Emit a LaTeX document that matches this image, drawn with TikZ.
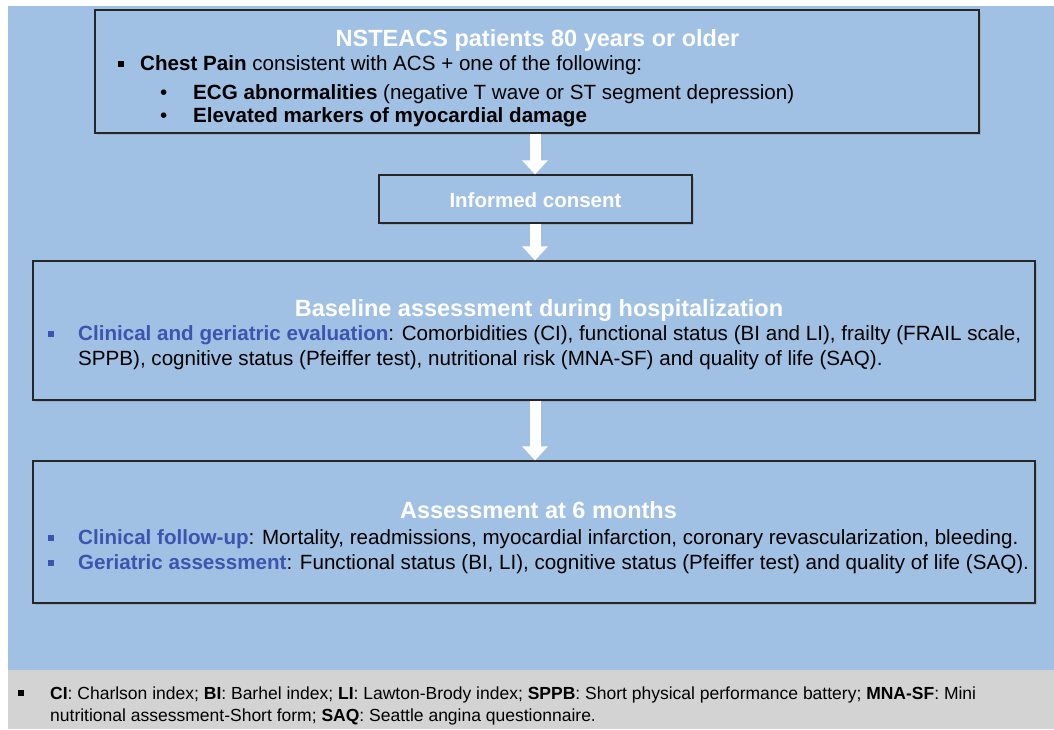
\documentclass[tikz,border=0pt]{standalone}
\usepackage{fontspec}
\setmainfont{Liberation Sans}
\usetikzlibrary{arrows.meta,shadows}

\definecolor{panelblue}{RGB}{160,193,228}
\definecolor{notegray}{RGB}{211,211,211}
\definecolor{keyblue}{RGB}{62,84,175}

\newcommand{\sqbullet}[1]{\textcolor{#1}{\rule[3pt]{6pt}{6pt}}}

\begin{document}
\begin{tikzpicture}[x=1pt, y=-1pt,
  stagebox/.style={draw=black!85, line width=1.3pt, fill=panelblue, inner sep=0pt,
    drop shadow={opacity=0.3, shadow xshift=1.5pt, shadow yshift=-1.5pt}},
  stagetitle/.style={anchor=base, inner sep=0pt, text=white, font=\fontsize{23.5}{28}\selectfont\bfseries},
  bodyline/.style={anchor=base west, inner sep=0pt, font=\fontsize{20.6}{24}\selectfont},
  noteline/.style={anchor=base west, inner sep=0pt, font=\fontsize{17.5}{21}\selectfont},
  flow/.style={white, line width=11pt, -{Triangle[width=25pt,length=14pt]}}
]
\useasboundingbox (0,0) rectangle (1054,729);
% background panels
\fill[panelblue] (8,6) rectangle (1054,670);
\fill[notegray] (8,670) rectangle (1054,729);

% boxes of the flow
\node[stagebox, minimum width=884pt, minimum height=123pt] (inclusion) at (537,71.5) {};
\node[stagebox, minimum width=313pt, minimum height=48pt] (consent) at (535.5,199) {};
\node[stagebox, minimum width=1002pt, minimum height=139pt] (baseline) at (534,330.5) {};
\node[stagebox, minimum width=1002pt, minimum height=142pt] (followup) at (534,532) {};

% inclusion criteria
\node[stagetitle] (inclTitle) at (537.5,46) {NSTEACS patients 80 years or older};
\node[bodyline] (chestBul) at (118,70) {\sqbullet{black}};
\node[bodyline] (chest) at (140,70) {\textbf{Chest Pain} consistent with ACS + one of the following:};
\node[bodyline] (ecgBul) at (160,99) {•};
\node[bodyline] (ecg) at (193,99) {\textbf{ECG abnormalities} (negative T wave or ST segment depression)};
\node[bodyline] (markBul) at (160,122) {•};
\node[bodyline] (markers) at (193,122) {\textbf{Elevated markers of myocardial damage}};

% consent
\node[anchor=base, inner sep=0pt, text=white, font=\fontsize{20.5}{24}\selectfont\bfseries] (consentText) at (535.5,207) {Informed consent};

% baseline assessment
\node[stagetitle] (baseTitle) at (539,316) {Baseline assessment during hospitalization};
\node[bodyline] (baseBul) at (48,340) {\sqbullet{keyblue}};
\node[bodyline] (baseA) at (78,340) {\textcolor{keyblue}{\textbf{Clinical and geriatric evaluation}}: Comorbidities (CI), functional status (BI and LI), frailty (FRAIL scale,};
\node[bodyline] (baseB) at (78,365) {SPPB), cognitive status (Pfeiffer test), nutritional risk (MNA-SF) and quality of life (SAQ).};

% six month assessment
\node[stagetitle] (sixTitle) at (538.5,518) {Assessment at 6 months};
\node[bodyline] (clinBul) at (48,544) {\sqbullet{keyblue}};
\node[bodyline] (clin) at (78,544) {\textcolor{keyblue}{\textbf{Clinical follow-up}}: Mortality, readmissions, myocardial infarction, coronary revascularization, bleeding.};
\node[bodyline] (geriBul) at (48,569) {\sqbullet{keyblue}};
\node[bodyline] (geri) at (78,569) {\textcolor{keyblue}{\textbf{Geriatric assessment}}: Functional status (BI, LI), cognitive status (Pfeiffer test) and quality of life (SAQ).};

% abbreviations
\node[noteline] (noteBul) at (18,699) {\sqbullet{black}};
\node[noteline] (noteA) at (50,699) {\textbf{CI}: Charlson index; \textbf{BI}: Barhel index; \textbf{LI}: Lawton-Brody index; \textbf{SPPB}: Short physical performance battery; \textbf{MNA-SF}: Mini};
\node[noteline] (noteB) at (50,721) {nutritional assessment-Short form; \textbf{SAQ}: Seattle angina questionnaire.};

% arrows
\draw[flow] (inclusion.south -| 535,0) -- (consent.north -| 535,0);
\draw[flow] (consent.south -| 535,0) -- (baseline.north -| 535,0);
\draw[flow] (baseline.south -| 535,0) -- (followup.north -| 535,0);
\end{tikzpicture}
\end{document}
